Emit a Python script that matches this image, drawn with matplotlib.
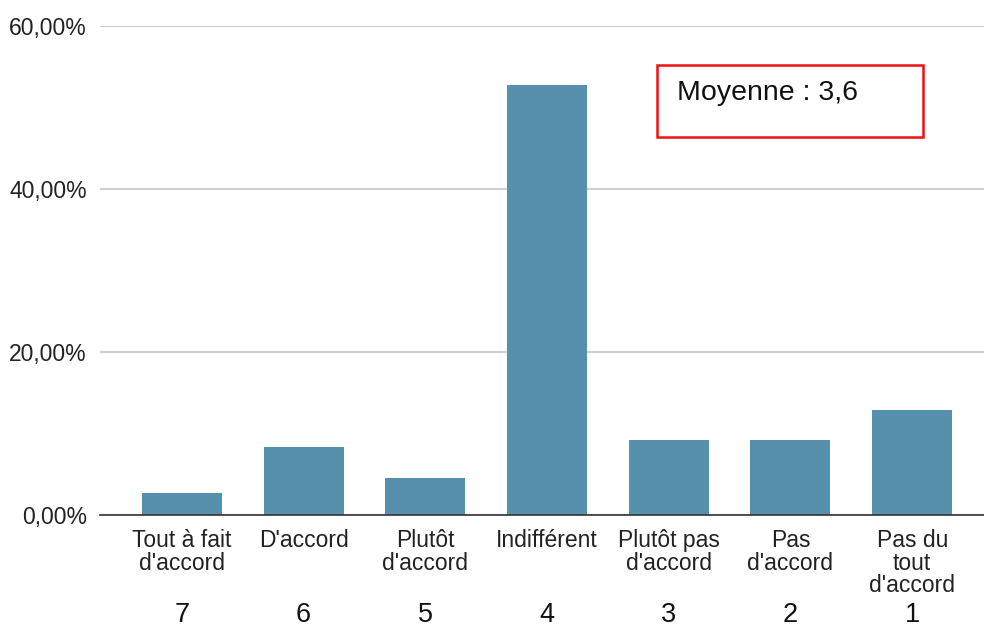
import matplotlib
matplotlib.use("Agg")
import matplotlib.pyplot as plt
from matplotlib.patches import Rectangle
from matplotlib.ticker import FuncFormatter

plt.rcParams['font.family'] = ['Liberation Sans', 'DejaVu Sans']

categories = ["Tout à fait\nd'accord", "D'accord", "Plutôt\nd'accord", "Indifférent",
              "Plutôt pas\nd'accord", "Pas\nd'accord", "Pas du\ntout\nd'accord"]
scores = [7, 6, 5, 4, 3, 2, 1]
percentages = [2.78, 8.33, 4.63, 52.78, 9.26, 9.26, 12.96]
y_ticks = [0, 20, 40, 60]

bar_color = "#5790ad"
text_color = "#222222"

fig = plt.figure(figsize=(9.84, 6.30), dpi=100)
ax = fig.add_axes([100 / 984, (630 - 515.3) / 630, 884 / 984, (515.3 - 26) / 630])

x = list(range(len(categories)))
ax.bar(x, percentages, width=0.657, color=bar_color, zorder=3)

ax.set_xlim(-0.673, 6.59)
ax.set_ylim(0, 60)
ax.set_yticks(y_ticks)
ax.yaxis.set_major_formatter(FuncFormatter(lambda v, p: f"{v:.2f}%".replace(".", ",")))
ax.set_xticks(x)
ax.set_xticklabels(categories, linespacing=0.97)
ax.tick_params(axis='both', length=0, labelsize=16.5, colors=text_color)
ax.tick_params(axis='y', pad=9.5)
ax.tick_params(axis='x', pad=10)
ax.yaxis.grid(True, color="#d0d0d0", linewidth=1.5, zorder=0)
ax.xaxis.grid(False)
for s in ['top', 'right', 'left']:
    ax.spines[s].set_visible(False)
ax.spines['bottom'].set_color('#333333')
ax.spines['bottom'].set_linewidth(1.2)
ax.spines['bottom'].set_zorder(4)

for xi, sc in zip(x, scores):
    ax.text(xi, -0.218, str(sc), transform=ax.get_xaxis_transform(),
            ha='center', va='baseline', fontsize=19.5, color='#111111')

mean = sum(s * p for s, p in zip(scores, percentages)) / sum(percentages)
fig.patches.append(Rectangle((657 / 984, (630 - 137) / 630), 266 / 984, 72 / 630,
                             transform=fig.transFigure, fill=False,
                             edgecolor='#ee1111', linewidth=1.8))
fig.text(677 / 984, (630 - 100) / 630, f"Moyenne : {mean:.1f}".replace(".", ","),
         fontsize=20.5, color='#111111', ha='left', va='baseline')

fig.savefig("out.png", dpi=100, facecolor='white')
